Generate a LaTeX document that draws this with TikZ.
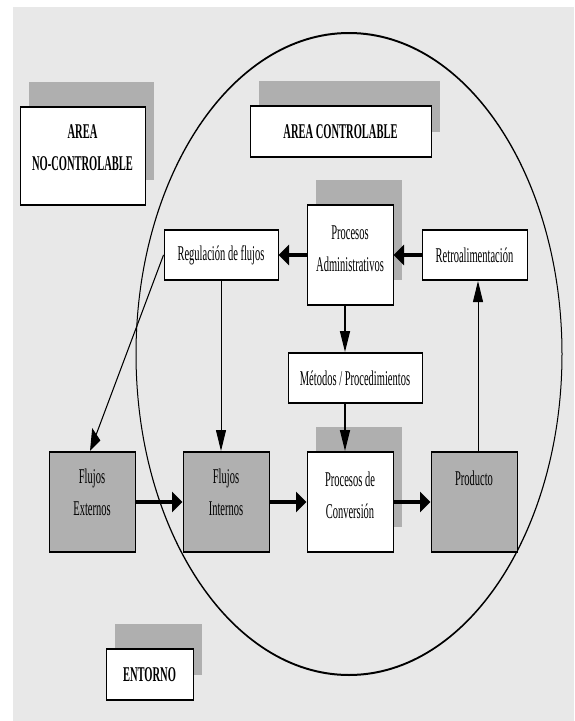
\documentclass[tikz,border=0pt]{standalone}
\usepackage{fontspec}
\setmainfont{Liberation Serif}
\usetikzlibrary{arrows.meta,shadows}
\definecolor{paper}{HTML}{E8E8E8}
\definecolor{shadegray}{HTML}{AFAFAF}
\definecolor{boxgray}{HTML}{B0B0B0}
% push the text of a node upwards by half of #1
\newcommand\liftby[2]{\raisebox{0pt}[\height][\dimexpr\depth+#1\relax]{#2}}
\newcommand\twolines[2]{\begin{tabular}{@{}c@{}}#1\\#2\end{tabular}}

\begin{document}
\begin{tikzpicture}[x=1pt,y=-1pt]
\useasboundingbox (0,0) rectangle (574,721);
\fill[paper] (13,7) rectangle (574,721);

% everything is drawn wide and then condensed horizontally
\begin{scope}[x=2pt,y=-1pt,transform canvas={xscale=0.5},
  box/.style={draw=black, line width=2pt, fill=white, inner sep=2pt,
    font=\fontsize{21}{32}\selectfont, minimum width=172pt, minimum height=100pt},
  flatbox/.style={box, minimum height=50pt},
  graybox/.style={box, fill=boxgray},
  shadowed/.style={drop shadow={shadow xshift=18pt, shadow yshift=25pt,
    opacity=1, fill=shadegray}},
  heavy/.style={font=\bfseries\fontsize{21}{32}\selectfont},
  flow/.style={line width=3.2pt, -{Triangle[length=21pt,width=20pt]}},
  thinflow/.style={line width=1.8pt, -{Triangle[length=21pt,width=20pt]}}]

  % boundary of the controllable area
  \draw[line width=2pt] (349,354) ellipse [x radius=426pt, y radius=321pt];

  \node[box, shadowed, heavy, minimum width=250pt, minimum height=98pt] (noctrl)
    at (82.5,156) {\liftby{16pt}{\twolines{AREA}{NO-CONTROLABLE}}};
  \node[flatbox, shadowed, heavy, minimum width=362pt, minimum height=51pt] (ctrl)
    at (340.5,131.5) {AREA CONTROLABLE};

  \node[box, shadowed] (procadm) at (350,255)
    {\liftby{12pt}{\twolines{Procesos}{Administrativos}}};
  \node[flatbox, minimum width=228pt] (reg) at (221,255) {Regulación de flujos};
  \node[flatbox, minimum width=210pt] (retro) at (474.5,255) {Retroalimentación};
  \node[flatbox, minimum width=268pt] (metodos) at (355,378) {Métodos / Procedimientos};

  \node[graybox] (fe) at (92,502) {\liftby{18pt}{\twolines{Flujos}{Externos}}};
  \node[graybox] (fi) at (226,502) {\liftby{18pt}{\twolines{Flujos}{Internos}}};
  \node[box, shadowed] (pconv) at (350,502)
    {\liftby{12pt}{\twolines{Procesos de}{Conversión}}};
  \node[graybox] (prod) at (474,502) {\liftby{47pt}{Producto}};

  \node[flatbox, shadowed, heavy, minimum width=174pt, minimum height=51pt] (entorno)
    at (149.5,674.5) {ENTORNO};

  % connectors
  \coordinate (admout) at ([xshift=-10pt]procadm.south);
  \coordinate (convin) at ([xshift=-10pt]pconv.north);
  \coordinate (fbout) at ([xshift=8pt]prod.north);

  \draw[flow] (retro) -- (procadm);
  \draw[flow] (procadm) -- (reg);
  \draw[flow] (admout) -- (admout |- metodos.north);
  \draw[flow] (convin |- metodos.south) -- (convin);
  \draw[thinflow] (reg.south) -- (reg.south |- fi.north);
  \draw[thinflow] (reg.west) -- ([xshift=-4pt]fe.north);
  \draw[thinflow] (fbout) -- (fbout |- retro.south);
  \draw[flow] (fe) -- (fi);
  \draw[flow] (fi) -- (pconv);
  \draw[flow] (pconv) -- (prod);
\end{scope}
\end{tikzpicture}
\end{document}
